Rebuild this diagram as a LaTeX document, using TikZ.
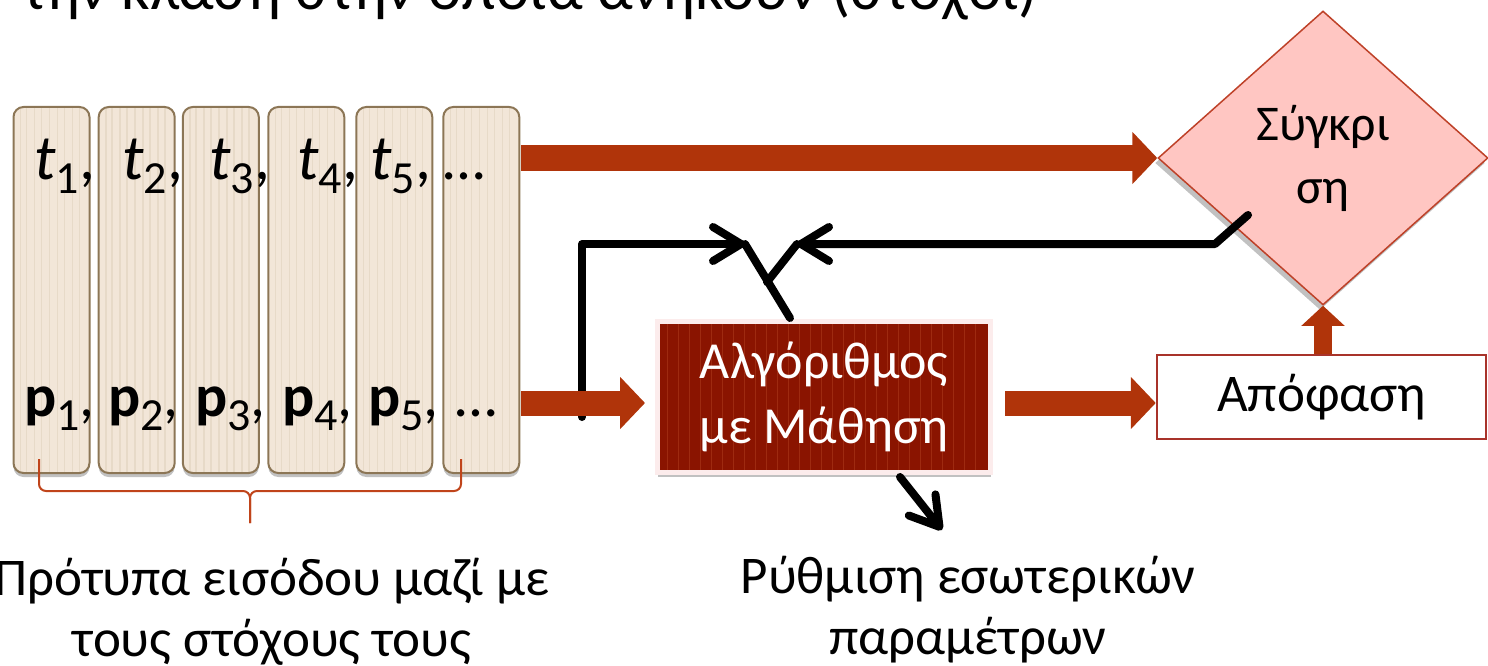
\documentclass[tikz,border=0pt]{standalone}
\usepackage{fontspec}
\setmainfont{Carlito}
\usetikzlibrary{arrows.meta,shapes.geometric,shadows}
\definecolor{arrowred}{RGB}{176,52,10}
\definecolor{colfill}{RGB}{242,230,216}
\definecolor{colstripe}{RGB}{231,218,200}
\definecolor{colborder}{RGB}{140,118,86}
\definecolor{algofill}{RGB}{138,20,0}
\definecolor{algostripe}{RGB}{158,42,16}
\definecolor{algoframe}{RGB}{252,236,236}
\definecolor{diamfill}{RGB}{255,198,194}
\definecolor{diamborder}{RGB}{190,65,40}
\definecolor{apofborder}{RGB}{168,51,42}
\definecolor{bracecol}{RGB}{192,68,26}
\newcommand\subx[1]{\raisebox{-14pt}{\fontsize{46}{46}\selectfont #1}}
\tikzset{
  colbox/.style={draw=colborder, line width=2pt, fill=colfill, rounded corners=10pt,
    minimum width=76, minimum height=366, inner sep=0,
    drop shadow={shadow xshift=0pt, shadow yshift=-4pt, opacity=0.35, fill=black!70},
    path picture={\foreach \dx in {7,13,21,28,36,44,51,59,66}{
      \draw[colstripe, line width=1.6pt] ([xshift=\dx pt]path picture bounding box.south west) -- ([xshift=\dx pt]path picture bounding box.north west);}}},
  lab/.style={anchor=base west, inner sep=0, font=\fontsize{60}{60}\selectfont},
  tlab/.style={lab, font=\fontsize{64}{64}\selectfont},
  bigarrow/.style={draw=arrowred, line width=25pt, -{Triangle[width=51pt,length=25pt]}},
  smallarrow/.style={draw=arrowred, line width=18pt, -{Triangle[width=42pt,length=20pt]}},
  fb/.style={draw=black, line width=8pt, line cap=round, line join=round},
  fbarrow/.style={fb, -{Straight Barb[length=28pt,width=34pt,round]}},
  txt/.style={inner sep=0, align=center, font=\fontsize{53}{61}\selectfont},
  bracepath/.style={draw=bracecol, line width=2pt, rounded corners=7pt}
}
\begin{document}
\begin{tikzpicture}[x=1pt,y=-1pt]
\useasboundingbox (0,0) rectangle (1488,666);
\clip (0,0) rectangle (1488,666);
% title line (cut at top)
\node[anchor=base west, inner sep=0, font=\fontsize{63}{63}\selectfont] (title) at (22,10) {την κλάση στην οποία ανήκουν (στόχοι)};
% pattern columns
\node[colbox] (c1) at (51.5,290) {};
\node[colbox] (c2) at (136.7,290) {};
\node[colbox] (c3) at (220.8,290) {};
\node[colbox] (c4) at (306.3,290) {};
\node[colbox] (c5) at (394.3,290) {};
\node[colbox] (c6) at (481.3,290) {};
% targets
\node[tlab] (t1) at (34,179) {\textit{t}\subx{1},};
\node[tlab] (t2) at (122,179) {\textit{t}\subx{2},};
\node[tlab] (t3) at (209,179) {\textit{t}\subx{3},};
\node[tlab] (t4) at (297,179) {\textit{t}\subx{4},};
\node[tlab] (t5) at (370,179) {\textit{t}\subx{5},};
\node[lab] (t6) at (443,179) {…};
% patterns
\node[lab] (p1) at (24,416) {\textbf{p}\subx{1},};
\node[lab] (p2) at (108,416) {\textbf{p}\subx{2},};
\node[lab] (p3) at (195,416) {\textbf{p}\subx{3},};
\node[lab] (p4) at (282,416) {\textbf{p}\subx{4},};
\node[lab] (p5) at (368,416) {\textbf{p}\subx{5},};
\node[lab] (p6) at (455,416) {…};
% algorithm box
\node[draw=algoframe, line width=5pt, fill=algofill, minimum width=333, minimum height=151, inner sep=0,
  drop shadow={shadow xshift=0pt, shadow yshift=-5pt, opacity=0.35, fill=black!70},
  path picture={\foreach \dx in {10,21,32,43,54,65,76,87,98,109,120,131,142,153,164,175,186,197,208,219,230,241,252,263,274,285,296,307,318}{
      \draw[algostripe, line width=1.2pt] ([xshift=\dx pt]path picture bounding box.south west) -- ([xshift=\dx pt]path picture bounding box.north west);}},
  text=white, align=center, font=\fontsize{52}{65}\selectfont] (algo) at (824,396.5) {Αλγόριθμος\\με Μάθηση};
% comparison diamond
\node[diamond, draw=diamborder, line width=1.5pt, fill=diamfill, minimum width=330, minimum height=294, inner sep=0,
  drop shadow={shadow xshift=-3pt, shadow yshift=-5pt, opacity=0.35, fill=black!70},
  align=center, font=\fontsize{50}{63}\selectfont] (diam) at (1323,158) {Σύγκρι\\ση};
% decision box
\node[draw=apofborder, line width=2.5pt, fill=white, minimum width=329, minimum height=84, inner sep=0,
  font=\fontsize{53}{53}\selectfont] (apof) at (1321.5,397) {Απόφαση};
% coordinates for connectors
\coordinate (topS) at (521,158);
\coordinate (inS) at (521,403);
\coordinate (outS) at (1005,403);
\coordinate (fbL) at (582,417);
\coordinate (tipL) at (745,244);
\coordinate (tipR) at (797,244);
\coordinate (fork) at (767,282);
\coordinate (dstart) at (1248,215);
\coordinate (dbend) at (1215,244);
\coordinate (lbend) at (582,244);
\coordinate (algoTop) at (790,318);
\coordinate (algoBot) at (900,477);
\coordinate (paramEnd) at (942,530);
% feedback (black)
\draw[fbarrow] (fbL) -- (lbend) -- (tipL);
\draw[fbarrow] (dstart) -- (dbend) -- (tipR);
\draw[fb] (algoTop) -- (tipL);
\draw[fb] (fork) -- (tipR);
\draw[fbarrow] (algoBot) -- (paramEnd);
% thick red arrows
\draw[bigarrow] (topS) -- (diam.west);
\draw[bigarrow, shorten >=10pt] (inS) -- (algo.west |- inS);
\draw[bigarrow] (outS) -- (apof.west |- outS);
\draw[smallarrow] (diam.south |- apof.north) -- (diam.south);
% brace
\coordinate (bl) at (39,459);
\coordinate (br) at (461,459);
\coordinate (btip) at (250,523);
\draw[bracepath] (bl) -- (39,491) -- (250,491) -- (btip);
\draw[bracepath] (br) -- (461,491) -- (250,491) -- (btip);
% captions (anchor = baseline of last line)
\node[txt, anchor=base] (cap1) at (272,656) {Πρότυπα εισόδου μαζί με\\τους στόχους τους};
\node[txt, anchor=base] (cap2) at (968,654) {Ρύθμιση εσωτερικών\\παραμέτρων};
\end{tikzpicture}
\end{document}
